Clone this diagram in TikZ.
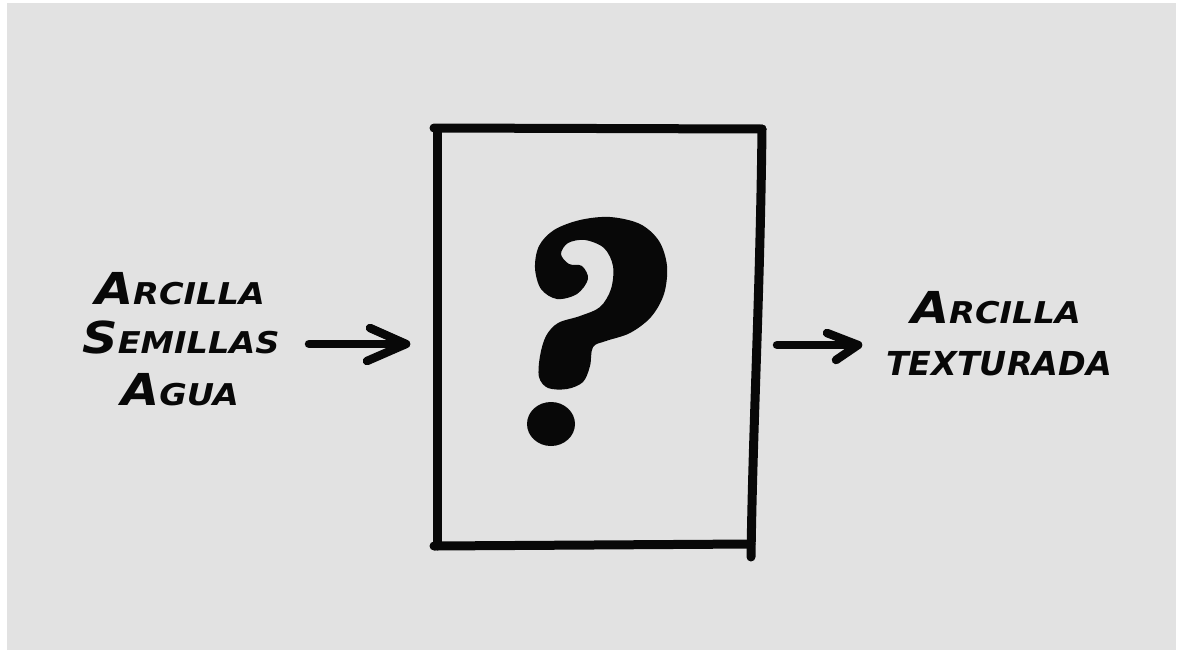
\documentclass[tikz,border=0pt]{standalone}
\usepackage{fontspec}
\usepackage{graphicx}
\usetikzlibrary{calc}
\newfontfamily\handfont{DejaVu Sans}[BoldItalicFont={DejaVu Sans Bold Oblique}]
\definecolor{paper}{RGB}{226,226,226}
\definecolor{ink}{RGB}{8,8,8}
\newcommand{\Scap}[2]{\scalebox{1.12}[1]{{\fontsize{44}{44}\selectfont #1}{\fontsize{30}{30}\selectfont #2}}}
\newcommand{\Sall}[1]{\scalebox{1.01}[1]{\fontsize{33}{33}\selectfont #1}}
\begin{document}
\begin{tikzpicture}[x=1pt,y=-1pt,
  label/.style={inner sep=0pt, anchor=base, text=ink, font=\handfont\bfseries\itshape},
  stroke/.style={draw=ink, line width=9pt, line cap=round, line join=round},
  arrowshaft/.style={draw=ink, line width=8.5pt, line cap=round, line join=round}]
\useasboundingbox (0,0) rectangle (1178,662);
\fill[white] (0,0) rectangle (1178,662);
\fill[paper] (7,3) rectangle (1176,650);

% box
\coordinate (tl) at (437,129);
\coordinate (tr) at (762,129);
\coordinate (br) at (751,544);
\coordinate (bl) at (437,545);
\coordinate (brx) at (751,557);
\draw[stroke] (434,128) -- (tr);
\draw[stroke] (tl) -- (437,546);
\draw[stroke] (tr) .. controls (760,300) and (753,420) .. (brx);
\draw[stroke] (434,546) -- (br);
\node[inner sep=0pt, minimum width=320pt, minimum height=414pt] (box) at (597,337) {};

% question mark
\fill[ink] plot[smooth cycle, tension=0.55] coordinates {
 (588,279) (577,294) (557,299) (541,289) (535,268) (539,246) (554,230) (580,220)
 (610,217) (640,224) (659,241) (667,266) (664,294) (651,317) (630,333) (606,341)
 (593,347) (590,366) (583,382) (567,389) (548,388) (539,377) (540,356) (546,336)
 (558,323) (580,316) (600,307) (611,289) (613,266) (604,248) (585,240) (568,243)
 (561,254) (569,264) (582,266)};
\fill[ink] (551,424) ellipse [x radius=24, y radius=22];

% texts
\node[label] (arc) at (180,304) {\Scap{A}{RCILLA}};
\node[label] (sem) at (181,353) {\Scap{S}{EMILLAS}};
\node[label] (agu) at (180,405) {\Scap{A}{GUA}};
\node[label] (arc2) at (996,323) {\Scap{A}{RCILLA}};
\node[label] (tex) at (999,375) {\Sall{TEXTURADA}};

% arrows
\coordinate (inS) at (309,344);
\coordinate (inE) at (406,344);
\coordinate (outS) at (777,345);
\coordinate (outE) at (858,345);
\draw[arrowshaft] (inS) -- (inE);
\draw[arrowshaft] ($(inE)+(-36,-16)$) -- (inE) -- ($(inE)+(-39,17)$);
\draw[arrowshaft] (outS) -- (outE);
\draw[arrowshaft] ($(outE)+(-31,-12)$) -- (outE) -- ($(outE)+(-22,15)$);
\end{tikzpicture}
\end{document}
